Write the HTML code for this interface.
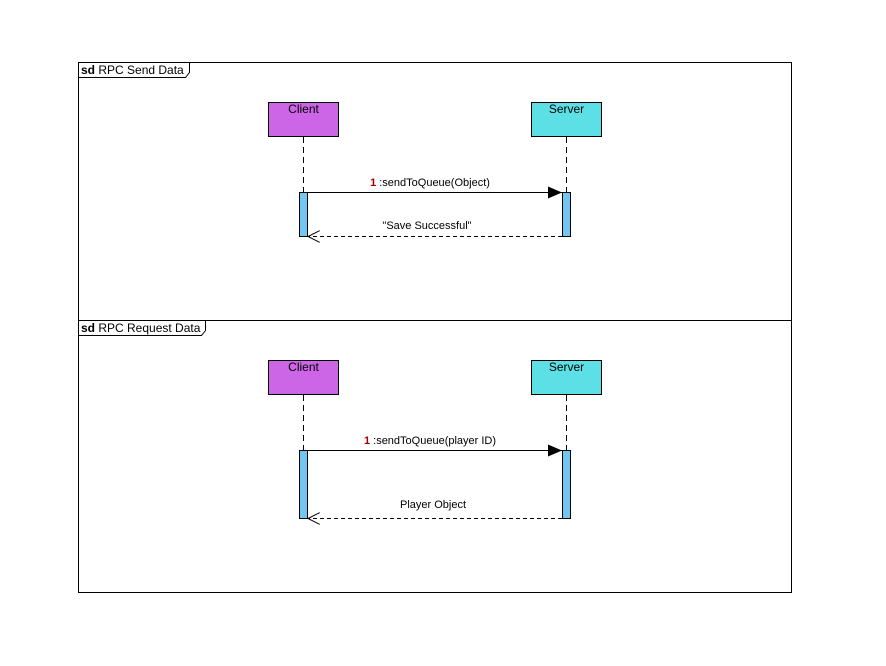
<!DOCTYPE html>
<html><head><meta charset="utf-8"><style>
html,body{margin:0;padding:0;background:#fff;}
svg{display:block;}
text{font-family:"Liberation Sans",Arial,sans-serif;}
</style></head><body>
<svg width="886" height="666" viewBox="0 0 886 666" xmlns="http://www.w3.org/2000/svg">
<defs>
<marker id="fa" viewBox="0 0 14 12" refX="14" refY="6" markerWidth="14" markerHeight="12" markerUnits="userSpaceOnUse" orient="auto"><path d="M0,0 L14,6 L0,12 z" fill="#000"/></marker>
<marker id="oa" viewBox="0 0 14 12" refX="12" refY="6" markerWidth="14" markerHeight="12" markerUnits="userSpaceOnUse" orient="auto"><path d="M0,0 L12,6 L0,12" fill="none" stroke="#000" stroke-width="1"/></marker>
</defs>
<rect x="78.5" y="62.5" width="713" height="530" fill="#fff" stroke="#000"/>
<line x1="78" y1="320.5" x2="792" y2="320.5" stroke="#000"/>
<path d="M78.5,77.5 H185.5 L189.5,72.5 V62.5" fill="none" stroke="#000"/>
<text x="81" y="74" font-size="12"><tspan font-weight="bold">sd</tspan> RPC Send Data</text>
<path d="M78.5,335.5 H201.5 L205.5,330.5 V320.5" fill="none" stroke="#000"/>
<text x="81" y="332" font-size="12"><tspan font-weight="bold">sd</tspan> RPC Request Data</text>

<rect x="268.5" y="102.5" width="70" height="34" fill="#cc66e6" stroke="#000"/>
<text x="303.5" y="113" font-size="12" text-anchor="middle">Client</text>
<rect x="531.5" y="102.5" width="70" height="34" fill="#5ce0e6" stroke="#000"/>
<text x="566.5" y="113" font-size="12" text-anchor="middle">Server</text>
<line x1="303.5" y1="137" x2="303.5" y2="192" stroke="#000" stroke-dasharray="6,4"/>
<line x1="566.5" y1="137" x2="566.5" y2="192" stroke="#000" stroke-dasharray="6,4"/>
<rect x="299.5" y="192.5" width="8" height="44" fill="#72c6f2" stroke="#000"/>
<rect x="562.5" y="192.5" width="8" height="44" fill="#72c6f2" stroke="#000"/>
<line x1="308" y1="192.5" x2="562" y2="192.5" stroke="#000" marker-end="url(#fa)"/>
<text x="430" y="186" font-size="11" text-anchor="middle"><tspan fill="#a00000" font-weight="bold">1</tspan> :sendToQueue(Object)</text>
<line x1="562" y1="236.5" x2="308" y2="236.5" stroke="#000" stroke-dasharray="4,3" marker-end="url(#oa)"/>
<text x="427" y="229" font-size="11" text-anchor="middle">"Save Successful"</text>

<rect x="268.5" y="360.5" width="70" height="34" fill="#cc66e6" stroke="#000"/>
<text x="303.5" y="371" font-size="12" text-anchor="middle">Client</text>
<rect x="531.5" y="360.5" width="70" height="34" fill="#5ce0e6" stroke="#000"/>
<text x="566.5" y="371" font-size="12" text-anchor="middle">Server</text>
<line x1="303.5" y1="395" x2="303.5" y2="450" stroke="#000" stroke-dasharray="6,4"/>
<line x1="566.5" y1="395" x2="566.5" y2="450" stroke="#000" stroke-dasharray="6,4"/>
<rect x="299.5" y="450.5" width="8" height="68" fill="#72c6f2" stroke="#000"/>
<rect x="562.5" y="450.5" width="8" height="68" fill="#72c6f2" stroke="#000"/>
<line x1="308" y1="450.5" x2="562" y2="450.5" stroke="#000" marker-end="url(#fa)"/>
<text x="430" y="444" font-size="11" text-anchor="middle"><tspan fill="#a00000" font-weight="bold">1</tspan> :sendToQueue(player ID)</text>
<line x1="562" y1="518.5" x2="308" y2="518.5" stroke="#000" stroke-dasharray="4,3" marker-end="url(#oa)"/>
<text x="433" y="508" font-size="11" text-anchor="middle">Player Object</text>
</svg>
</body></html>
